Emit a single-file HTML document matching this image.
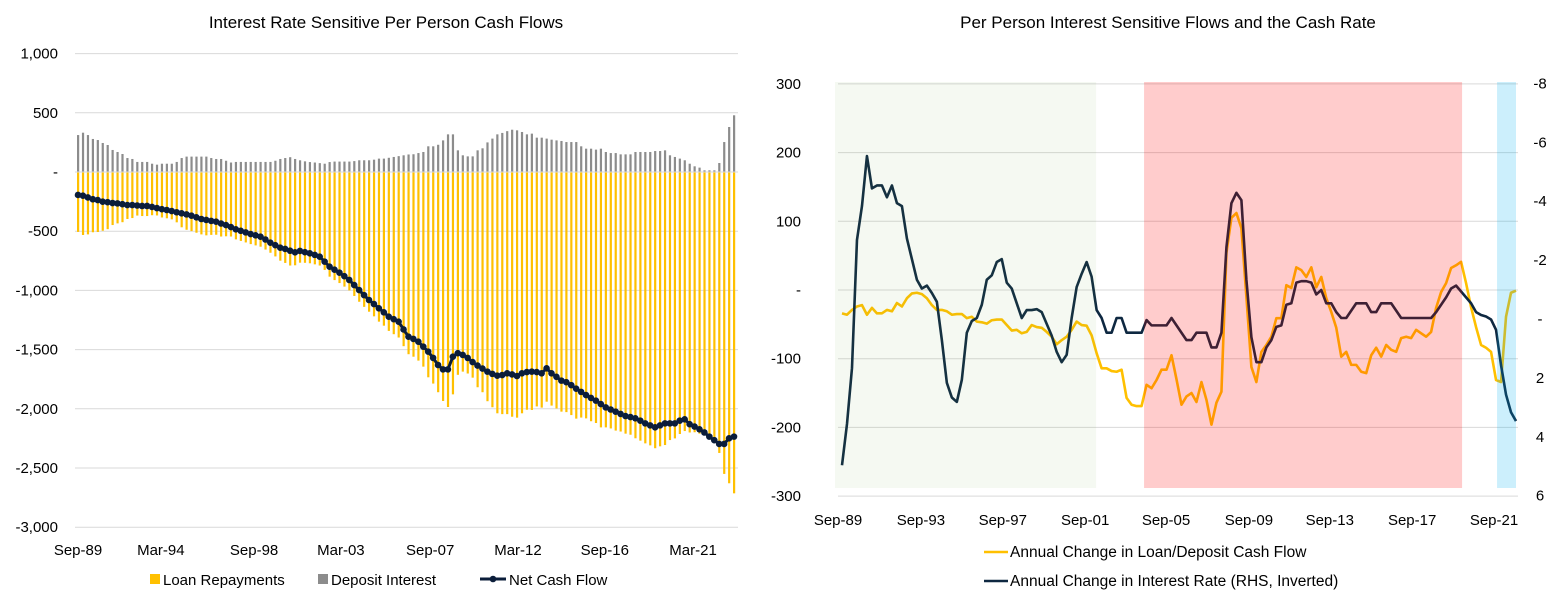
<!DOCTYPE html>
<html><head><meta charset="utf-8"><style>
body{margin:0;background:#fff;font-family:"Liberation Sans",sans-serif;}
svg text{font-family:"Liberation Sans",sans-serif;fill:#000;}
</style></head><body>
<svg id="chart" width="1565" height="604" viewBox="0 0 1565 604" xmlns="http://www.w3.org/2000/svg">
<rect width="1565" height="604" fill="#fff"/>
<g id="left"></g>
<g id="right"></g>
</svg>
<script>
// ---- Left chart data (quarterly Sep-89 .. Dec-22) ----
const leftXTicks = ["Sep-89","Mar-94","Sep-98","Mar-03","Sep-07","Mar-12","Sep-16","Mar-21"];
const leftXTickIdx = [0,16.8,35.7,53.3,71.4,89.2,106.8,124.7];
const leftYTicks = [1000,500,0,-500,-1000,-1500,-2000,-2500,-3000];
const leftYLabels = ["1,000","500","-","-500","-1,000","-1,500","-2,000","-2,500","-3,000"];
const depositInterest = [312,332,312,279,270,245,228,186,169,152,118,110,85,85,85,70,62,70,70,70,85,118,130,130,130,130,130,118,110,110,95,80,85,85,85,85,85,85,85,85,95,110,118,125,110,
99,90,84,80,75,70,84,88,88,88,88,92,99,99,99,104,113,113,120,127,134,141,148,150,160,169,217,217,230,267,318,318,183,141,132,132,183,200,250,282,318,330,345,357,
352,338,318,324,290,290,282,273,267,262,253,253,253,217,197,197,189,197,169,160,160,149,149,149,169,169,169,169,177,177,183,141,127,113,99,70,48,37,14,14,14,76,253,380,479];
const netCashFlow = [-194,-200,-215,-230,-237,-251,-255,-262,-265,-272,-279,-279,-283,-287,-287,-295,-305,-314,-321,-330,-340,-349,-358,-369,-383,-397,-405,-413,-420,-435,-448,-465,-484,-497,-510,-524,-535,-546,-570,-597,-618,-639,-650,-665,-678,
-667,-677,-687,-700,-715,-757,-800,-825,-850,-880,-912,-955,-997,-1040,-1081,-1115,-1151,-1185,-1222,-1243,-1264,-1330,-1391,-1410,-1433,-1475,-1517,-1570,-1630,-1667,-1667,-1560,-1530,-1545,-1570,-1605,-1635,-1660,-1686,-1705,-1720,-1715,-1700,-1710,
-1723,-1700,-1690,-1686,-1690,-1700,-1658,-1700,-1730,-1762,-1775,-1800,-1830,-1857,-1884,-1908,-1931,-1960,-1988,-2006,-2024,-2043,-2061,-2070,-2080,-2100,-2123,-2140,-2156,-2140,-2123,-2123,-2123,-2100,-2089,-2130,-2150,-2173,-2200,-2235,-2265,-2297,-2297,-2249,-2235];
const loanRepayments = [-506,-532,-527,-509,-507,-496,-483,-448,-434,-424,-397,-389,-368,-372,-372,-365,-367,-384,-391,-400,-425,-467,-488,-499,-513,-527,-535,-531,-530,-545,-543,-545,-569,-582,-595,-609,-620,-631,-655,-682,-713,-749,-768,-790,-788,
-766,-767,-771,-780,-790,-827,-884,-913,-938,-968,-1000,-1047,-1096,-1139,-1180,-1219,-1264,-1298,-1342,-1370,-1398,-1471,-1539,-1560,-1593,-1644,-1734,-1787,-1860,-1934,-1985,-1878,-1713,-1686,-1702,-1737,-1818,-1860,-1936,-1987,-2038,-2045,-2045,-2067,
-2075,-2038,-2008,-2010,-1980,-1990,-1940,-1973,-1997,-2024,-2028,-2053,-2083,-2074,-2081,-2105,-2120,-2157,-2157,-2166,-2184,-2192,-2210,-2219,-2249,-2269,-2292,-2309,-2333,-2317,-2306,-2264,-2250,-2213,-2188,-2200,-2198,-2210,-2214,-2249,-2279,-2373,-2550,-2629,-2714];

// ---- Right chart data ----
const rightXTicks = ["Sep-89","Sep-93","Sep-97","Sep-01","Sep-05","Sep-09","Sep-13","Sep-17","Sep-21"];
const rightXTickIdx = [-0.4,16.2,32.6,49.1,65.3,81.9,98.1,114.6,131.0];
const rightYTicks = [300,200,100,0,-100,-200,-300];
const rightYLabels = ["300","200","100","-","-100","-200","-300"];
const rhsTicks = [-8,-6,-4,-2,0,2,4,6];
const rhsLabels = ["-8","-6","-4","-2","-","2","4","6"];
const cashFlowChange = [-34,-36,-29,-24,-22,-36,-26,-34,-34,-29,-31,-19,-24,-12,-5,-4,-6,-12,-22,-29,-29,-31,-36,-35,-35,-41,-39,-46,-47,-49,-44,-43,-43,-51,-59,-58,-63,-61,-51,-54,-55,-61,-68,-79,-73,-68,-58,-46,-51,-52,-66,-92,-114,-114,-118,-119,-116,-157,-167,-169,-169,-138,-143,-131,-116,-116,-95,-130,-167,-155,-150,-163,-134,-160,-196,-164,-148,54,105,112,90,-10,-112,-134,-90,-80,-68,-41,-41,7,3,33,29,19,33,4,19,-12,-32,-55,-97,-90,-109,-109,-119,-121,-95,-84,-97,-80,-87,-90,-70,-68,-70,-58,-63,-68,-61,-26,-3,10,32,36,41,10,-25,-54,-80,-84,-90,-131,-134,-39,-4,-1];
const rateChange = [5.0,3.6,1.7,-2.65,-3.8,-5.5,-4.4,-4.5,-4.5,-4.1,-4.5,-3.9,-3.8,-2.7,-2.0,-1.3,-1.0,-1.1,-0.85,-0.55,0.75,2.2,2.7,2.85,2.1,0.5,0.1,0,-0.45,-1.3,-1.45,-1.9,-2.0,-1.2,-1.0,-0.5,0,-0.27,-0.27,-0.3,-0.2,0.2,0.6,1.15,1.5,1.25,0,-1.05,-1.5,-1.9,-1.4,-0.27,0,0.5,0.5,0,0,0.5,0.5,0.5,0.5,0.07,0.25,0.25,0.25,0.25,0,0.25,0.5,0.75,0.75,0.5,0.5,0.5,1.0,1.0,0.5,-2.4,-3.9,-4.25,-4.0,-1.3,0.65,1.5,1.5,1.0,0.75,0.3,0.25,-0.45,-0.5,-1.2,-1.25,-1.25,-1.2,-0.8,-0.95,-0.5,-0.5,-0.2,0,0,-0.25,-0.5,-0.5,-0.5,-0.2,-0.2,-0.5,-0.5,-0.5,-0.25,0,0,0,0,0,0,0,-0.2,-0.45,-0.7,-1.0,-1.1,-0.9,-0.7,-0.5,-0.2,-0.1,-0.05,0.05,0.4,1.6,2.6,3.2,3.5];
const shadeStartIdx = [-1.5,60.5,131.2];
const shadeEndIdx = [50.9,124.2,135];

const NS="http://www.w3.org/2000/svg";
function mk(parent,tag,attrs,text){const e=document.createElementNS(NS,tag);for(const k in attrs)e.setAttribute(k,attrs[k]);if(text!==undefined)e.textContent=text;parent.appendChild(e);return e;}

// ---------- LEFT ----------
(function(){
const g=document.getElementById('left');
const x0=78,x1=734,n=netCashFlow.length;
const xS=i=>x0+(x1-x0)*i/(n-1);
const yS=v=>172-v*(59.2/500);
let t=mk(g,'text',{x:386,y:28,'text-anchor':'middle','font-size':17});
t.textContent='Interest Rate Sensitive Per Person Cash Flows';


leftYTicks.forEach((v,k)=>{
 const y=yS(v);
 if(v!==0){const l=mk(g,'line',{x1:75,x2:738,y1:y,y2:y,stroke:'#d9d9d9','stroke-width':1});
 
 }
 const tx=mk(g,'text',{x:58,y:y+5,'text-anchor':'end','font-size':15},leftYLabels[k]);
 
 
});
for(let i=0;i<n;i++){
 const x=xS(i);
 const b=mk(g,'rect',{x:x-1,y:yS(0),width:2.2,height:yS(loanRepayments[i])-yS(0),fill:'#FFC000'});
 
 
 const d=mk(g,'rect',{x:x-1,y:yS(depositInterest[i]),width:2.2,height:yS(0)-yS(depositInterest[i]),fill:'#8c8c8c'});
 
 
}
const zl=mk(g,'line',{x1:75,x2:738,y1:yS(0),y2:yS(0),stroke:'#d9d9d9','stroke-width':1});


const p=mk(g,'polyline',{points:netCashFlow.map((v,i)=>xS(i)+','+yS(v)).join(' '),fill:'none',stroke:'#0B1D3A','stroke-width':3});


netCashFlow.forEach((v,i)=>{const c=mk(g,'circle',{cx:xS(i),cy:yS(v),r:3.3,fill:'#0B1D3A'});
 
 });
leftXTicks.forEach((s,k)=>{const tx=mk(g,'text',{x:xS(leftXTickIdx[k]),y:555,'text-anchor':'middle','font-size':15},s);
 
 });
const lg=mk(g,'g',{});


mk(lg,'rect',{x:150,y:574,width:10,height:10,fill:'#FFC000'});
mk(lg,'text',{x:163,y:585,'font-size':15},'Loan Repayments');
mk(lg,'rect',{x:318,y:574,width:10,height:10,fill:'#8c8c8c'});
mk(lg,'text',{x:331,y:585,'font-size':15},'Deposit Interest');
mk(lg,'line',{x1:480,x2:506,y1:579,y2:579,stroke:'#0B1D3A','stroke-width':3});
mk(lg,'circle',{cx:493,cy:579,r:3.3,fill:'#0B1D3A'});
mk(lg,'text',{x:509,y:585,'font-size':15},'Net Cash Flow');
})();

// ---------- RIGHT ----------
(function(){
const g=document.getElementById('right');
const x0=842,x1=1516,n=rateChange.length;
const xS=i=>x0+(x1-x0)*i/(n-1);
const yL=v=>290-v*0.687;
const yR=r=>318+r*29.45;
let t=mk(g,'text',{x:1168,y:28,'text-anchor':'middle','font-size':17},'Per Person Interest Sensitive Flows and the Cash Rate');


rightYTicks.forEach((v,k)=>{const y=yL(v);
 const l=mk(g,'line',{x1:838,x2:1518,y1:y,y2:y,stroke:'#d9d9d9','stroke-width':1});
 
 
 const tx=mk(g,'text',{x:801,y:y+5,'text-anchor':'end','font-size':15},rightYLabels[k]);
 
 });
rhsTicks.forEach((v,k)=>{const tx=mk(g,'text',{x:1540,y:yR(v)+6,'text-anchor':'middle','font-size':15},rhsLabels[k]);
 
 });
const y1=mk(g,'polyline',{points:cashFlowChange.map((v,i)=>xS(i)+','+yL(v)).join(' '),fill:'none',stroke:'#FFC000','stroke-width':2.6,'stroke-linejoin':'round'});


const y2=mk(g,'polyline',{points:rateChange.map((v,i)=>xS(i)+','+yR(v)).join(' '),fill:'none',stroke:'#0E2841','stroke-width':2.6,'stroke-linejoin':'round'});


const fills=['rgba(112,173,71,0.07)','rgba(255,0,0,0.2)','rgba(0,176,240,0.2)'];
const names=['easing-period-shade','tightening-period-shade','recent-tightening-shade'];
shadeStartIdx.forEach((s,k)=>{const xa=Math.max(835,xS(s)),xb=xS(shadeEndIdx[k]);
 const r=mk(g,'rect',{x:xa,y:82,width:xb-xa,height:406,fill:fills[k]});
 
 });
rightXTicks.forEach((s,k)=>{const tx=mk(g,'text',{x:xS(rightXTickIdx[k])-2,y:525,'text-anchor':'middle','font-size':15},s);
 
 });
const lg=mk(g,'g',{});


mk(lg,'line',{x1:984,x2:1008,y1:552,y2:552,stroke:'#FFC000','stroke-width':2.6});
mk(lg,'text',{x:1010,y:557,'font-size':15.5},'Annual Change in Loan/Deposit Cash Flow');
mk(lg,'line',{x1:984,x2:1008,y1:581,y2:581,stroke:'#0E2841','stroke-width':2.6});
mk(lg,'text',{x:1010,y:586,'font-size':15.5},'Annual Change in Interest Rate (RHS, Inverted)');
})();
</script>
</body></html>
